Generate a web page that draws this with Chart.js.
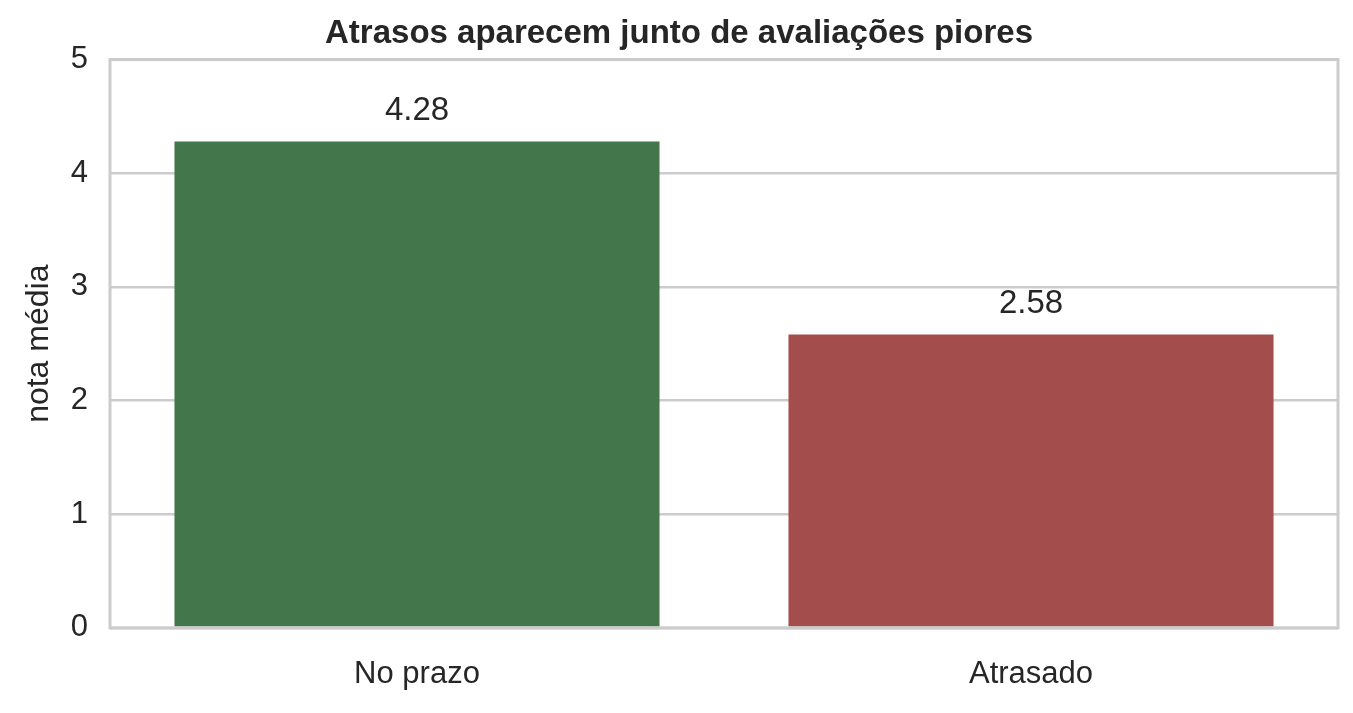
<!DOCTYPE html>
<html><head><meta charset="utf-8">
<script src="https://cdn.jsdelivr.net/npm/chart.js@4/dist/chart.umd.min.js"></script>
<style>body{margin:0;background:#fff}</style>
</head><body>
<canvas id="c" width="1353" height="713"></canvas>
<script>
const categories = ["No prazo", "Atrasado"];
const values = [4.28, 2.58];
const barColors = ["#43774B", "#A34D4C"];
const yTicks = [0, 1, 2, 3, 4, 5];

const labelPlugin = {
  id: 'vals',
  afterDatasetsDraw(chart) {
    const ctx = chart.ctx;
    const meta = chart.getDatasetMeta(0);
    ctx.save();
    ctx.font = '33px "Liberation Sans", Arial, sans-serif';
    ctx.fillStyle = '#262626';
    ctx.textAlign = 'center';
    ctx.textBaseline = 'bottom';
    meta.data.forEach((bar, i) => {
      ctx.fillText(values[i].toFixed(2), bar.x, bar.y - 14);
    });
    ctx.restore();
  }
};
const borderPlugin = {
  id: 'frame',
  afterDraw(chart) {
    const a = chart.chartArea, ctx = chart.ctx;
    ctx.save();
    ctx.strokeStyle = '#cccccc';
    ctx.lineWidth = 3;
    ctx.strokeRect(a.left, a.top, a.right - a.left, a.bottom - a.top);
    ctx.restore();
  }
};

new Chart(document.getElementById('c'), {
  type: 'bar',
  data: {
    labels: categories,
    datasets: [{ data: values, backgroundColor: barColors, borderWidth: 0,
      barPercentage: 0.79, categoryPercentage: 1.0 }]
  },
  options: {
    responsive: false, devicePixelRatio: 1, animation: false,
    layout: { padding: { top: 14, right: 15, bottom: 0, left: 20 } },
    plugins: {
      legend: { display: false }, tooltip: { enabled: false },
      title: { display: true, text: 'Atrasos aparecem junto de avaliações piores',
        color: '#262626', font: { family: '"Liberation Sans", Arial, sans-serif', size: 33, weight: 'bold' },
        padding: { top: 0, bottom: 6 } }
    },
    scales: {
      x: {
        grid: { display: false }, border: { display: false },
        ticks: { color: '#262626', padding: 20, font: { family: '"Liberation Sans", Arial, sans-serif', size: 31 } }
      },
      y: {
        min: 0, max: 5,
        afterBuildTicks(s) { s.ticks = yTicks.map(v => ({ value: v })); },
        afterFit(s) { s.width = 90; },
        grid: { color: '#cccccc', lineWidth: 2.5, drawTicks: false },
        border: { display: false },
        ticks: { color: '#262626', padding: 22, font: { family: '"Liberation Sans", Arial, sans-serif', size: 31 } },
        title: { display: true, text: 'nota média', color: '#262626', padding: { bottom: 0, top: 0 },
          font: { family: '"Liberation Sans", Arial, sans-serif', size: 32 } }
      }
    }
  },
  plugins: [labelPlugin, borderPlugin]
});
</script>
</body></html>
